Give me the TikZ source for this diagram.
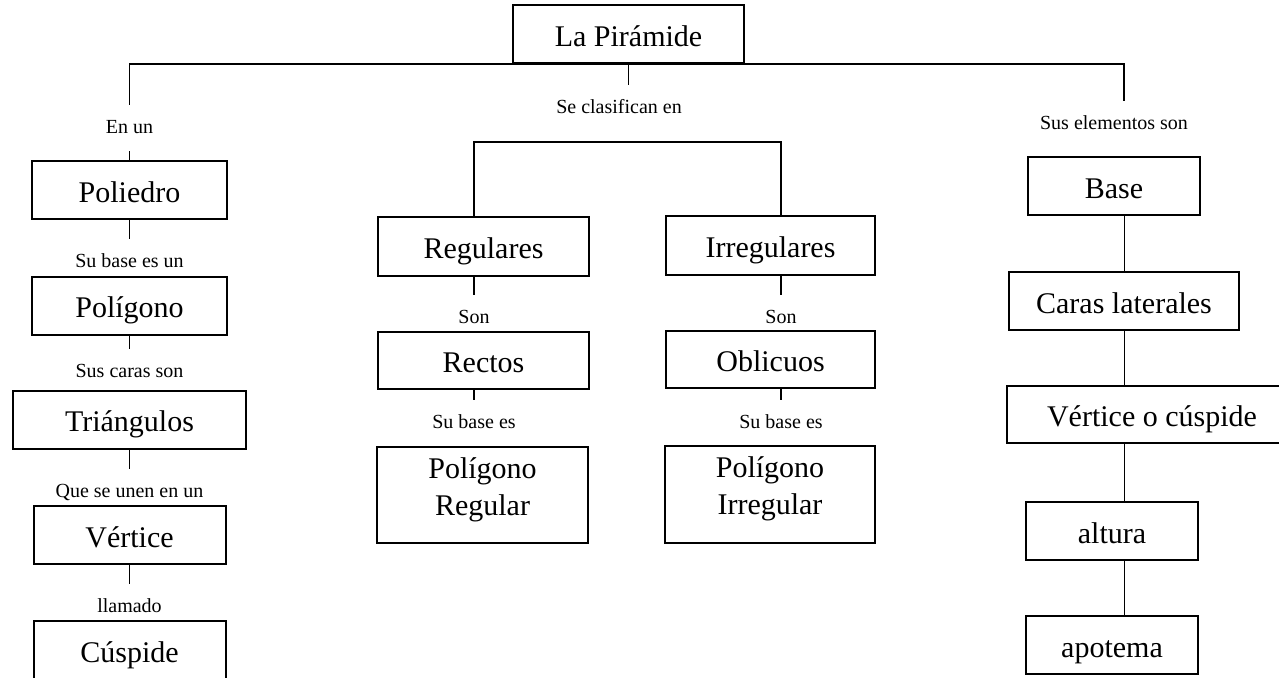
\documentclass[tikz,border=0pt]{standalone}
\usepackage{fontspec}
\setmainfont{Liberation Serif}

\tikzset{
  caja/.style={draw, line width=1pt, minimum height=29pt, inner sep=2pt, align=center, text height=12pt, text depth=0pt, font=\fontsize{15}{18.5}\selectfont},
  doble/.style={text height=20pt, text depth=0pt},
  etiq/.style={anchor=base, inner xsep=2pt, inner ysep=7pt, text height=7pt, text depth=2pt, font=\fontsize{10}{12}\selectfont},
  linea/.style={line width=0.7pt},
  fina/.style={line width=0.5pt}
}

\begin{document}
\begin{tikzpicture}[x=0.5pt, y=-0.5pt]
			\fill[white] (0,0) rectangle (1279,677);
			\useasboundingbox (0,0) rectangle (1279,677);

			% Raíz
			\node[caja, minimum width=115.5pt] (piramide) at (628.5,34) {La Pirámide};

			% Rama izquierda
			\node[etiq] (enun) at (129.5,133) {En un};
			\node[caja, minimum width=97.5pt] (poliedro) at (129.5,190) {Poliedro};
			\node[etiq] (subaseun) at (129.5,267) {Su base es un};
			\node[caja, minimum width=97.5pt] (poligono) at (129.5,305.5) {Polígono};
			\node[etiq] (suscaras) at (129.5,377) {Sus caras son};
			\node[caja, minimum width=116.5pt] (triang) at (129.5,419.5) {Triángulos};
			\node[etiq] (seunen) at (129.5,497) {Que se unen en un};
			\node[caja, minimum width=96pt] (vertice) at (129.5,535) {Vértice};
			\node[etiq] (llamado) at (129.5,612) {llamado};
			\node[caja, minimum width=96pt] (cuspide) at (129.5,650) {Cúspide};

			% Rama central
			\node[etiq] (clasif) at (619,113) {Se clasifican en};
			\coordinate (bifi) at (474,142);
			\coordinate (bifd) at (781,142);
			\node[caja, minimum width=105.5pt, minimum height=29.5pt] (regular) at (483.5,246.5) {Regulares};
			\node[caja, minimum width=104.5pt, minimum height=29.5pt] (irregular) at (770.5,245.5) {Irregulares};
			\node[etiq] (soni) at (474,323) {Son};
			\node[etiq] (sond) at (781,323) {Son};
			\node[caja, minimum width=105.5pt, minimum height=28.5pt] (rectos) at (483.5,360) {Rectos};
			\node[caja, minimum width=104.5pt, minimum height=28.5pt] (oblicuos) at (770.5,359.5) {Oblicuos};
			\node[etiq] (subasei) at (474,428) {Su base es};
			\node[etiq] (subased) at (781,428) {Su base es};
			\node[caja, doble, minimum width=105.5pt, minimum height=48pt] (polreg) at (482.5,495) {Polígono\\Regular};
			\node[caja, doble, minimum width=105pt, minimum height=48.5pt] (polirr) at (770,494) {Polígono\\Irregular};

			% Rama derecha
			\coordinate (ejeder) at (1124,0);
			\node[etiq] (elementos) at (1114,129) {Sus elementos son};
			\node[caja, minimum width=86pt] (basepir) at (1114,186) {Base};
			\node[caja, minimum width=115pt] (carlat) at (1124,301) {Caras laterales};
			\node[caja, minimum width=145pt, minimum height=28.5pt] (vercus) at (1152,414.5) {Vértice o cúspide};
			\node[caja, minimum width=86pt] (altura) at (1112,531) {altura};
			\node[caja, minimum width=86pt] (apotema) at (1112,645) {apotema};

			% Conectores
			\draw[linea] (enun.north) |- (piramide.south) -| (ejeder |- elementos.north);
			\draw[linea] (piramide.south) -- (piramide.south |- clasif.north);
			\draw[linea] (enun.south) -- (poliedro.north);
			\draw[linea] (poliedro.south) -- (subaseun.north);
			\draw[linea] (poligono.south) -- (suscaras.north);
			\draw[linea] (triang.south) -- (seunen.north);
			\draw[linea] (vertice.south) -- (llamado.north);

			\draw[linea] (bifi |- regular.north) -- (bifi) -- (bifd) -- (bifd |- irregular.north);
			\draw[linea] (regular.south -| bifi) -- (soni.north);
			\draw[linea] (irregular.south -| bifd) -- (sond.north);
			\draw[linea] (rectos.south -| bifi) -- (subasei.north);
			\draw[linea] (oblicuos.south -| bifd) -- (subased.north);

			\draw[fina] (basepir.south -| ejeder) -- (carlat.north -| ejeder);
			\draw[fina] (carlat.south -| ejeder) -- (vercus.north -| ejeder);
			\draw[fina] (vercus.south -| ejeder) -- (altura.north -| ejeder);
			\draw[fina] (altura.south -| ejeder) -- (apotema.north -| ejeder);
\end{tikzpicture}
\end{document}
